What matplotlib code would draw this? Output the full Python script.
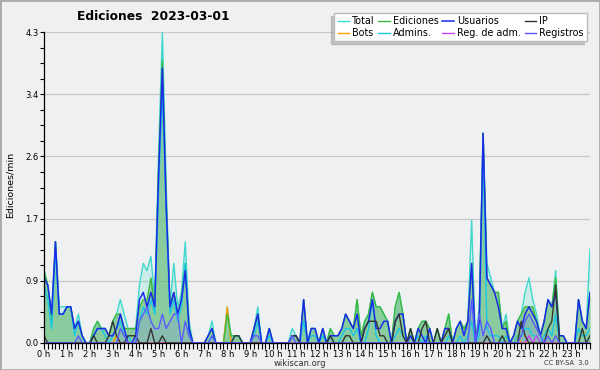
import numpy as np
import matplotlib.pyplot as plt
from matplotlib.patches import Rectangle

# valores en décimas de edición/min, un punto cada 10 minutos (144 puntos)
total = [10, 8, 4, 14, 5, 5,  5, 5, 2, 4, 1, 0,  0, 2, 3, 2, 2, 1,  3, 4, 6, 4, 2, 2,
         2, 8, 11, 10, 12, 6,  26, 43, 22, 5, 11, 5,  7, 14, 3, 0, 0, 0,  0, 1, 3, 0, 0, 0,
         5, 1, 1, 1, 0, 0,  0, 2, 5, 0, 0, 2,  0, 0, 0, 0, 0, 2,  1, 0, 6, 0, 2, 2,
         0, 2, 0, 2, 1, 1,  2, 4, 3, 2, 6, 1,  3, 4, 7, 5, 5, 4,  3, 0, 5, 7, 4, 0,
         2, 0, 2, 3, 3, 2,  0, 2, 0, 2, 4, 0,  2, 3, 2, 3, 17, 0,  5, 29, 11, 9, 7, 7,
         2, 4, 0, 1, 3, 4,  7, 9, 6, 4, 1, 3,  6, 5, 10, 1, 1, 0,  0, 0, 6, 3, 2, 13]
ediciones = [10, 8, 3, 14, 4, 4,  5, 5, 2, 3, 1, 0,  0, 2, 3, 2, 2, 1,  3, 4, 4, 2, 2, 2,
             2, 5, 6, 6, 9, 5,  24, 39, 20, 5, 7, 4,  6, 11, 2, 0, 0, 0,  0, 1, 2, 0, 0, 0,
             4, 1, 1, 1, 0, 0,  0, 2, 4, 0, 0, 2,  0, 0, 0, 0, 0, 1,  1, 0, 6, 0, 2, 2,
             0, 2, 0, 2, 1, 1,  2, 4, 3, 2, 6, 1,  3, 4, 7, 5, 5, 4,  3, 0, 5, 7, 4, 0,
             2, 0, 2, 3, 3, 2,  0, 2, 0, 2, 4, 0,  2, 3, 2, 3, 11, 0,  4, 29, 9, 8, 7, 7,
             2, 3, 0, 1, 3, 4,  5, 5, 5, 3, 1, 3,  6, 5, 9, 1, 1, 0,  0, 0, 6, 3, 2, 7]
usuarios = [9, 8, 4, 14, 4, 4,  5, 5, 2, 3, 1, 0,  0, 1, 2, 2, 2, 1,  1, 2, 4, 2, 0, 0,
            1, 6, 7, 5, 7, 5,  23, 38, 19, 5, 7, 4,  6, 10, 2, 0, 0, 0,  0, 1, 2, 0, 0, 0,
            0, 0, 0, 0, 0, 0,  0, 2, 4, 0, 0, 2,  0, 0, 0, 0, 0, 1,  1, 0, 6, 0, 2, 2,
            0, 2, 0, 1, 1, 1,  2, 4, 3, 2, 4, 0,  2, 3, 6, 2, 2, 3,  3, 0, 3, 4, 4, 0,
            1, 0, 2, 1, 0, 2,  0, 0, 0, 2, 2, 0,  2, 3, 1, 3, 11, 0,  3, 29, 9, 8, 7, 5,
            2, 2, 0, 1, 3, 2,  4, 5, 4, 3, 1, 3,  6, 5, 7, 1, 1, 0,  0, 0, 6, 3, 2, 7]
ip = [1, 0, 0, 0, 0, 0,  0, 0, 0, 0, 0, 0,  0, 1, 0, 0, 0, 1,  3, 1, 0, 0, 1, 1,
      1, 0, 0, 0, 2, 0,  0, 1, 0, 0, 0, 0,  0, 0, 0, 0, 0, 0,  0, 0, 0, 0, 0, 0,
      0, 0, 1, 1, 0, 0,  0, 0, 0, 0, 0, 0,  0, 0, 0, 0, 0, 1,  1, 0, 0, 0, 0, 0,
      0, 0, 0, 1, 0, 0,  0, 1, 1, 0, 0, 0,  2, 3, 3, 3, 1, 1,  0, 0, 3, 4, 1, 0,
      2, 0, 0, 2, 3, 0,  0, 2, 0, 1, 2, 0,  0, 0, 0, 0, 0, 0,  0, 0, 1, 0, 0, 0,
      1, 0, 0, 0, 0, 3,  1, 0, 0, 0, 0, 0,  2, 3, 8, 0, 0, 0,  0, 0, 0, 2, 0, 1]
admins = [8, 6, 2, 13, 4, 4,  5, 5, 1, 3, 1, 0,  0, 1, 2, 2, 1, 0,  1, 2, 3, 1, 1, 0,
          0, 3, 5, 4, 6, 4,  21, 35, 18, 4, 6, 3,  5, 11, 1, 0, 0, 0,  0, 0, 1, 0, 0, 0,
          0, 0, 1, 1, 0, 0,  0, 1, 3, 0, 0, 1,  0, 0, 0, 0, 0, 0,  0, 0, 3, 0, 1, 1,
          0, 1, 0, 1, 0, 0,  1, 2, 2, 1, 2, 0,  0, 2, 6, 1, 0, 0,  0, 0, 1, 2, 1, 0,
          0, 0, 1, 0, 1, 0,  0, 0, 0, 0, 1, 0,  0, 1, 0, 1, 3, 0,  1, 28, 2, 1, 1, 1,
          0, 1, 0, 0, 1, 1,  2, 2, 1, 1, 0, 1,  2, 1, 4, 0, 0, 0,  0, 0, 2, 1, 1, 2]
registros = [0, 0, 0, 0, 0, 0,  0, 0, 0, 1, 0, 0,  0, 0, 0, 0, 0, 0,  0, 0, 2, 1, 0, 0,
             0, 3, 4, 5, 3, 2,  2, 4, 2, 3, 4, 4,  0, 3, 1, 0, 0, 0,  0, 0, 1, 0, 0, 0,
             0, 0, 0, 0, 0, 0,  0, 1, 1, 0, 0, 0,  0, 0, 0, 0, 0, 1,  0, 0, 0, 0, 0, 0,
             0, 0, 0, 0, 0, 0,  0, 0, 0, 0, 0, 0,  0, 0, 0, 0, 0, 0,  0, 0, 0, 0, 0, 0,
             0, 0, 0, 0, 0, 0,  0, 0, 0, 0, 0, 0,  0, 0, 0, 0, 6, 0,  4, 1, 3, 2, 0, 0,
             0, 0, 0, 0, 0, 1,  3, 4, 3, 2, 1, 0,  1, 0, 1, 0, 0, 0,  0, 0, 0, 0, 0, 0]
bots = [0] * 144
bots[19] = 1
bots[48] = 5
bots[121] = 1
bots[124] = 1
reg_adm = [0] * 144
reg_adm[127] = 1
reg_adm[129] = 1

hour_labels = ['%d h' % h for h in range(24)]

x = np.arange(144)
s = lambda v: np.array(v) / 10.0

bg = '#eff0f1'
fig = plt.figure(figsize=(6, 3.7), dpi=100, facecolor=bg)
ax = fig.add_axes([44 / 600, 27 / 370, 546 / 600, 311 / 370], facecolor=bg)

ax.fill_between(x, s(total), color='#40e0d0', alpha=0.2, lw=0)
ax.fill_between(x, s(ediciones), color='#5fb86a', alpha=0.6, lw=0)
ax.fill_between(x, s(registros), color='#8080ff', alpha=0.2, lw=0)

ax.plot(x, s(total), color='#40d8cc', lw=1.0, label='Total')
ax.plot(x, s(bots), color='#ff9900', lw=1.0, label='Bots')
ax.plot(x, s(ediciones), color='#3cb83c', lw=1.0, label='Ediciones')
ax.plot(x, s(admins), color='#18c8e8', lw=1.0, label='Admins.')
ax.plot(x, s(usuarios), color='#1a2ae8', lw=1.1, label='Usuarios')
ax.plot(x, s(reg_adm), color='#cc44ee', lw=1.0, label='Reg. de adm.')
ax.plot(x, s(ip), color='#333333', lw=1.0, label='IP')
ax.plot(x, s(registros), color='#5a5aff', lw=1.0, label='Registros')

ymax = 4.3
ax.set_xlim(0, 143)
ax.set_ylim(0, ymax)
yt = [ymax * k / 5 for k in range(6)]
ax.set_yticks(yt)
ax.set_yticklabels(['%.1f' % v for v in yt])
ax.set_yticks([ymax * k / 20 for k in range(21)], minor=True)
ax.set_xticks(np.arange(0, 144, 6))
ax.set_xticklabels(hour_labels)
ax.set_xticks(x, minor=True)
ax.tick_params(axis='both', which='both', direction='out', length=3, width=0.8,
               labelsize=6, pad=1)
ax.tick_params(axis='x', which='both', length=4)
ax.yaxis.grid(True, color='#c8c8c8', lw=0.9)
ax.set_axisbelow(True)
for side in ['top', 'right']:
    ax.spines[side].set_visible(False)
ax.spines['left'].set_linewidth(0.9)
ax.spines['bottom'].set_linewidth(0.9)

fig.text(153 / 600, 1 - 17 / 370, 'Ediciones  2023-03-01', ha='center', va='center',
         fontsize=8.8, fontweight='bold')
fig.text(10 / 600, 0.5, 'Ediciones/min', rotation=90, ha='center', va='center', fontsize=6.8)
fig.text(0.5, 1 - 363 / 370, 'wikiscan.org', ha='center', va='center', fontsize=6,
         color='#333333')
fig.text(589 / 600, 1 - 363 / 370, 'CC BY-SA  3.0', ha='right', va='center', fontsize=4.8,
         color='#333333')

fig.legend(loc='upper right', bbox_to_anchor=(592 / 600, 1 - 8 / 370), ncol=4,
           fontsize=6.9, frameon=True, fancybox=False, edgecolor='#bbbbbb',
           framealpha=1, handlelength=1.2, handletextpad=0.35, columnspacing=0.35,
           labelspacing=0.2, borderpad=0.35,
           shadow={'ox': -2, 'oy': -2, 'color': '#999999'})

fig.patches.append(Rectangle((0, 0), 1, 1, transform=fig.transFigure, fill=False,
                             edgecolor='#aaaaaa', lw=2))

fig.savefig('out.png', dpi=100, facecolor=bg)
